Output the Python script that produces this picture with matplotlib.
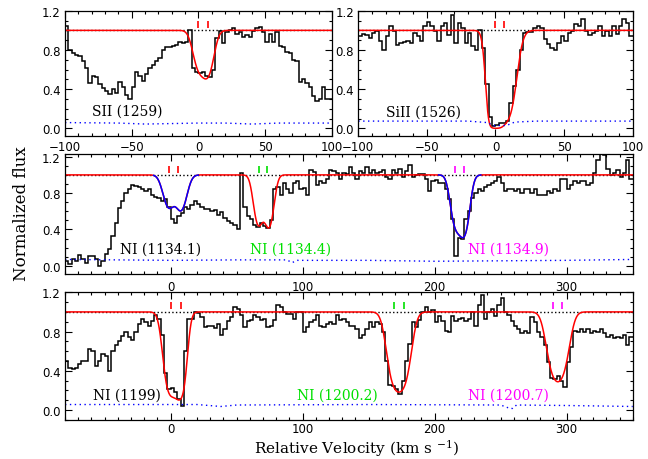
import numpy as np
import matplotlib
matplotlib.use("Agg")
import matplotlib.pyplot as plt
from matplotlib.ticker import MultipleLocator, FormatStrFormatter

plt.rcParams['mathtext.fontset'] = 'dejavuserif'

STEP = 2.5  # pixel size of the spectra (km/s)

# ---------------- SII 1259 (top left) ----------------
sii_start = -100.0
sii_flux = [1.04, 0.80, 0.77, 0.75, 0.74, 0.69, 0.62, 0.46, 0.53, 0.52,
            0.45, 0.41, 0.38, 0.35, 0.40, 0.36, 0.47, 0.42, 0.34, 0.30,
            0.42, 0.58, 0.53, 0.48, 0.56, 0.62, 0.65, 0.69, 0.72, 0.80,
            0.83, 0.83, 0.84, 0.85, 0.88, 0.87, 0.88, 1.00, 0.62, 0.58,
            0.57, 0.58, 0.53, 0.52, 0.60, 0.92, 0.99, 0.87, 0.98, 1.00,
            1.02, 0.96, 0.98, 0.93, 0.95, 0.93, 0.99, 1.02, 1.03, 0.98,
            0.88, 0.96, 0.88, 0.98, 0.84, 0.83, 0.78, 0.77, 0.70, 0.69,
            0.47, 0.50, 0.46, 0.42, 0.33, 0.28, 0.30, 0.42, 0.30, 0.30]
sii_err_v = [-100, -60, -40, -20, 0, 20, 40, 60, 100]
sii_err = [0.060, 0.055, 0.045, 0.050, 0.055, 0.055, 0.045, 0.055, 0.055]
sii_comps = [(0.0, 5.5, 0.45), (7.2, 5.5, 0.57)]
sii_ticks = [-0.2, 7.2]

# ---------------- SiII 1526 (top right) ----------------
siii_start = -100.0
siii_flux = [0.94, 0.96, 0.95, 0.92, 0.97, 0.99, 0.89, 0.80, 0.94, 1.04,
             0.99, 0.85, 0.87, 0.88, 0.89, 0.87, 0.97, 0.94, 0.89, 1.04,
             1.09, 1.04, 0.99, 0.89, 1.04, 1.07, 0.95, 1.16, 0.87, 1.07,
             1.02, 0.87, 0.97, 0.84, 0.80, 1.00, 0.82, 0.45, 0.12, 0.02,
             0.04, 0.06, 0.06, 0.08, 0.26, 0.43, 0.60, 0.80, 0.97, 0.98,
             0.98, 1.02, 1.04, 1.02, 0.91, 0.86, 0.82, 0.80, 0.87, 0.94,
             0.89, 0.97, 0.99, 1.06, 1.04, 1.12, 0.99, 0.95, 0.97, 0.99,
             1.04, 0.94, 0.99, 0.94, 1.04, 0.96, 1.04, 1.12, 1.07, 0.94]
siii_err_v = [-100, -20, -6, -1, 8, 14, 30, 100]
siii_err = [0.075, 0.075, 0.060, 0.030, 0.030, 0.065, 0.075, 0.075]
siii_comps = [(-0.4, 4.8, 5.1), (6.4, 7.7, 2.7)]
siii_ticks = [-0.4, 6.4]

# ---------------- NI 1134 triplet (middle) ----------------
n1134_start = -80.0
n1134_flux = [0.05, 0.02, 0.07, 0.05, 0.12, 0.07, 0.03, 0.11, 0.11, 0.07,
              0.00, 0.05, 0.13, 0.18, 0.33, 0.47, 0.64, 0.71, 0.80, 0.85,
              0.89, 0.88, 0.87, 0.84, 0.82, 0.84, 0.78, 0.76, 0.75, 0.71,
              0.73, 0.65, 0.51, 0.47, 0.55, 0.58, 0.65, 0.62, 0.67, 0.71,
              0.68, 0.65, 0.62, 0.63, 0.60, 0.61, 0.56, 0.59, 0.53, 0.49,
              0.47, 0.45, 0.40, 1.02, 0.65, 0.55, 0.51, 0.45, 0.43, 0.47,
              0.44, 0.42, 0.50, 0.84, 0.87, 0.78, 0.91, 0.84, 0.80, 0.91,
              0.93, 0.85, 0.86, 0.78, 1.05, 1.03, 0.89, 0.93, 0.91, 0.95,
              1.05, 1.04, 1.02, 0.95, 1.02, 1.01, 1.09, 1.02, 0.96, 1.04,
              1.02, 1.09, 1.02, 1.05, 1.02, 1.03, 1.05, 0.98, 0.96, 1.05,
              1.02, 1.07, 0.98, 1.04, 1.11, 0.98, 1.00, 1.01, 1.01, 0.96,
              0.82, 0.93, 0.94, 0.91, 0.91, 0.85, 0.73, 0.51, 0.11, 0.31,
              0.29, 0.51, 0.60, 0.75, 0.80, 0.84, 0.82, 0.87, 0.89, 0.91,
              0.93, 0.98, 0.91, 0.82, 0.84, 0.85, 0.82, 0.84, 0.80, 0.85,
              0.84, 0.80, 0.85, 0.78, 0.78, 0.78, 0.82, 0.80, 0.84, 0.82,
              0.95, 0.96, 0.84, 0.89, 0.93, 0.91, 0.93, 0.93, 0.89, 0.91,
              1.02, 1.16, 1.25, 1.22, 1.07, 1.00, 1.02, 1.05, 0.98, 1.02,
              1.16, 0.96]
n1134_err_v = [-80, -40, 0, 50, 88, 92, 96, 150, 200, 250, 300, 350]
n1134_err = [0.070, 0.065, 0.060, 0.065, 0.065, 0.035, 0.060, 0.060, 0.050, 0.055, 0.060, 0.070]
n1134a_comps = [(-1.5, 5.5, 0.43), (8.0, 5.5, 0.48)]      # blue
n1134b_comps = [(66.5, 4.5, 0.785), (74.5, 4.5, 0.84)]    # red
n1134c_comps = [(215.8, 4.8, 0.77), (222.4, 4.8, 1.02)]   # blue
n1134a_ticks = [-1.2, 5.6]
n1134b_ticks = [66.8, 73.1]
n1134c_ticks = [215.6, 222.4]

# ---------------- NI 1200 triplet (bottom) ----------------
n1200_start = -80.0
n1200_flux = [0.50, 0.43, 0.42, 0.43, 0.47, 0.50, 0.50, 0.62, 0.60, 0.45,
              0.50, 0.57, 0.55, 0.40, 0.60, 0.66, 0.70, 0.75, 0.79, 0.74,
              0.71, 0.79, 0.88, 0.93, 0.90, 0.86, 0.91, 0.97, 0.93, 0.76,
              0.38, 0.21, 0.22, 0.18, 0.11, 0.04, 0.60, 0.93, 0.93, 1.00,
              0.99, 0.95, 0.85, 0.86, 0.86, 0.84, 0.88, 0.76, 0.83, 0.91,
              0.95, 1.05, 1.03, 0.97, 0.85, 0.91, 0.92, 0.97, 0.95, 0.92,
              0.93, 0.85, 0.86, 0.92, 1.07, 1.05, 1.00, 0.98, 0.98, 0.93,
              1.00, 1.00, 0.79, 0.85, 0.90, 0.92, 0.97, 0.86, 0.85, 0.88,
              0.90, 0.88, 0.97, 0.92, 0.93, 0.90, 0.86, 0.86, 0.83, 0.73,
              0.76, 0.83, 0.90, 0.85, 0.90, 0.88, 0.79, 0.50, 0.25, 0.24,
              0.21, 0.16, 0.30, 0.50, 0.67, 0.90, 0.85, 0.92, 1.00, 1.05,
              1.00, 1.02, 0.90, 0.96, 0.91, 0.81, 0.79, 0.96, 0.91, 0.93,
              0.94, 0.91, 0.93, 1.00, 0.86, 1.07, 1.17, 0.93, 1.00, 1.03,
              0.96, 1.07, 1.14, 1.00, 0.97, 0.91, 0.86, 0.83, 0.78, 0.81,
              0.78, 0.95, 0.90, 0.79, 0.74, 0.66, 0.49, 0.33, 0.32, 0.35,
              0.30, 0.23, 0.49, 0.64, 0.81, 0.80, 0.83, 0.80, 0.83, 0.78,
              0.81, 0.79, 0.83, 0.78, 0.74, 0.76, 0.73, 0.74, 0.73, 0.76,
              0.66, 0.74]
n1200_err_v = [-80, 20, 38, 50, 150, 250, 257, 259, 262, 300, 350]
n1200_err = [0.055, 0.055, 0.035, 0.050, 0.055, 0.050, 0.015, 0.015, 0.050, 0.045, 0.035]
n1199_comps = [(0.0, 5.7, 1.8), (7.6, 4.75, 1.9)]
n1200a_comps = [(169.4, 6.5, 1.15), (176.5, 6.5, 1.15)]
n1200b_comps = [(289.9, 6.5, 0.82), (296.7, 6.5, 0.82)]
n1199_ticks = [0.0, 7.6]
n1200a_ticks = [169.4, 176.5]
n1200b_ticks = [289.9, 296.7]

GREEN = '#00e000'
MAGENTA = '#ff00ff'
BLUE = '#0000ff'
RED = '#ff0000'


def tau_of(v, comps):
    t = np.zeros_like(v)
    for vc, b, t0 in comps:
        t += t0 * np.exp(-((v - vc) / b) ** 2)
    return t


def style(ax, xlim, ylim, xmaj, xmin, xpad=4):
    ax.set_xlim(*xlim)
    ax.set_ylim(*ylim)
    ax.xaxis.set_major_locator(MultipleLocator(xmaj))
    ax.xaxis.set_minor_locator(MultipleLocator(xmin))
    ax.set_yticks([0.0, 0.4, 0.8, 1.2])
    ax.yaxis.set_minor_locator(MultipleLocator(0.1))
    ax.yaxis.set_major_formatter(FormatStrFormatter('%.1f'))
    ax.tick_params(which='both', direction='in', top=True, right=True,
                   labelsize=8.5, width=0.8)
    ax.tick_params(which='major', length=5)
    ax.tick_params(which='minor', length=2.5)
    ax.tick_params(axis='x', pad=xpad)
    ax.tick_params(axis='y', pad=3)
    for s in ax.spines.values():
        s.set_linewidth(0.9)


def spectrum(ax, start, flux, err_v, err):
    flux = np.asarray(flux)
    edges = start + STEP * np.arange(len(flux) + 1)
    ax.stairs(flux, edges, baseline=None, color='black', lw=1.1)
    ax.plot(err_v, err, color=BLUE, ls=(0, (1, 2.5)), lw=1.0)


def label(ax, x, y, s, color='black'):
    ax.text(x, y, s, family='DejaVu Serif', fontsize=10, color=color, va='center')


def marks(ax, ticks, color):
    ax.vlines(ticks, 1.025, 1.10, color=color, lw=1.2)


fig = plt.figure(figsize=(6.48, 4.60), dpi=100)

# --- top left
ax1 = fig.add_axes([0.1003, 0.7015, 0.4120, 0.2730])
style(ax1, (-100, 100), (-0.08, 1.2), 50, 10, xpad=2.5)
v = np.linspace(-100, 100, 1500)
ax1.axhline(1.0, color='black', ls=':', lw=1.0)
ax1.plot(v, np.exp(-tau_of(v, sii_comps)), color=RED, lw=1.1)
spectrum(ax1, sii_start, sii_flux, sii_err_v, sii_err)
marks(ax1, sii_ticks, RED)
label(ax1, -80, 0.18, 'SII (1259)')

# --- top right
ax2 = fig.add_axes([0.5529, 0.7015, 0.4235, 0.2730])
style(ax2, (-100, 100), (-0.08, 1.2), 50, 10, xpad=2.5)
ax2.axhline(1.0, color='black', ls=':', lw=1.0)
ax2.plot(v, np.exp(-tau_of(v, siii_comps)), color=RED, lw=1.1)
spectrum(ax2, siii_start, siii_flux, siii_err_v, siii_err)
marks(ax2, siii_ticks, RED)
label(ax2, -80, 0.17, 'SiII (1526)')

# --- middle
ax3 = fig.add_axes([0.1003, 0.4022, 0.8761, 0.2609])
style(ax3, (-80, 350), (-0.09, 1.23), 100, 10)
vm = np.linspace(-80, 350, 4000)
ax3.axhline(1.0, color='black', ls=':', lw=1.0)
full = np.exp(-(tau_of(vm, n1134a_comps) + tau_of(vm, n1134b_comps) + tau_of(vm, n1134c_comps)))
ax3.plot(vm, full, color=RED, lw=1.1)
for comps, lo, hi in [(n1134a_comps, -13, 21), (n1134c_comps, 203, 235)]:
    sel = (vm >= lo) & (vm <= hi)
    ax3.plot(vm[sel], np.exp(-tau_of(vm[sel], comps)), color=BLUE, lw=1.1)
spectrum(ax3, n1134_start, n1134_flux, n1134_err_v, n1134_err)
marks(ax3, n1134a_ticks, RED)
marks(ax3, n1134b_ticks, GREEN)
marks(ax3, n1134c_ticks, MAGENTA)
label(ax3, -38, 0.19, 'NI (1134.1)')
label(ax3, 60.5, 0.19, 'NI (1134.4)', GREEN)
label(ax3, 225, 0.19, 'NI (1134.9)', MAGENTA)

# --- bottom
ax4 = fig.add_axes([0.1003, 0.0854, 0.8761, 0.2770])
style(ax4, (-80, 350), (-0.1, 1.2), 100, 10, xpad=2)
ax4.axhline(1.0, color='black', ls=':', lw=1.0)
full4 = np.exp(-(tau_of(vm, n1199_comps) + tau_of(vm, n1200a_comps) + tau_of(vm, n1200b_comps)))
ax4.plot(vm, full4, color=RED, lw=1.1)
spectrum(ax4, n1200_start, n1200_flux, n1200_err_v, n1200_err)
marks(ax4, n1199_ticks, RED)
marks(ax4, n1200a_ticks, GREEN)
marks(ax4, n1200b_ticks, MAGENTA)
label(ax4, -59, 0.16, 'NI (1199)')
label(ax4, 96, 0.16, 'NI (1200.2)', GREEN)
label(ax4, 225, 0.16, 'NI (1200.7)', MAGENTA)

fig.text(0.033, 0.535, 'Normalized flux', rotation=90, family='DejaVu Serif',
         fontsize=12, ha='center', va='center')
fig.text(0.55, 0.025, r'Relative Velocity (km s $^{-1}$)', family='DejaVu Serif',
         fontsize=11, ha='center', va='center')

fig.savefig('out.png', dpi=100)
